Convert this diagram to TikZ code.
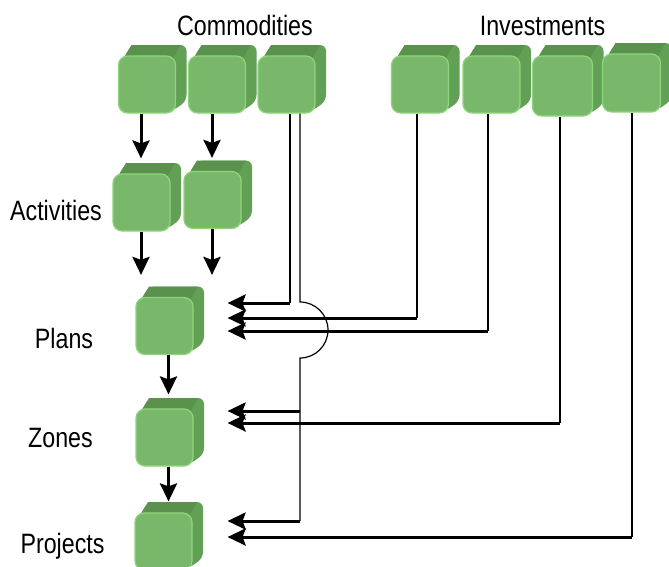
\documentclass[tikz,border=0pt]{standalone}
\usepackage{fontspec}
\setmainfont[FakeStretch=0.83]{Liberation Sans}
\usetikzlibrary{arrows.meta,calc}
\definecolor{cubefront}{HTML}{79B86B}
\definecolor{cubetop}{HTML}{5A914D}
\definecolor{cubeside}{HTML}{62A056}
\definecolor{cubeedge}{HTML}{8ED67C}
\tikzset{
 cubeface/.style={rectangle, rounded corners=9, fill=cubefront, draw=cubeedge, line width=1.2, inner sep=0pt, minimum width=#1, minimum height=#1},
 lbl/.style={font=\fontsize{28}{30}\selectfont, anchor=base, inner sep=0pt},
 flow/.style={line width=3pt, -{Stealth[length=18pt,width=17pt,inset=3pt]}},
 feed/.style={line width=1.2pt},
}
\newcommand\greencube[4]{%
 \fill[cubeside, rounded corners=6] (#2-#4/2+4,#3-#4/2+4) -- (#2-#4/2+13,#3-#4/2-11) -- (#2+#4/2+11,#3-#4/2-11) -- (#2+#4/2+11,#3+#4/2-12) -- (#2+#4/2-3,#3+#4/2-2) -- (#2-#4/2+4,#3+#4/2-4) -- cycle;
 \fill[cubetop] (#2-#4/2+4,#3-#4/2+4) -- (#2-#4/2+13,#3-#4/2-11) -- (#2+#4/2+5,#3-#4/2-11) -- (#2+#4/2-3,#3-#4/2+3) -- cycle;
 \node[cubeface=#4] (#1) at (#2,#3) {};
}
\begin{document}
\begin{tikzpicture}[x=1pt,y=-1pt]
\useasboundingbox (0,0) rectangle (669,566);
\fill[white] (0,0) rectangle (669,566);
\clip (0,0) rectangle (669,566);
% labels
\node[lbl] (tcom) at (245,35) {Commodities};
\node[lbl] (tinv) at (542.5,35) {Investments};
\node[lbl] (tact) at (56,220) {Activities};
\node[lbl] (tpla) at (64,348) {Plans};
\node[lbl] (tzon) at (60.5,447) {Zones};
\node[lbl] (tpro) at (62.5,553) {Projects};
% cubes
\greencube{c1}{147}{84.5}{57}
\greencube{c2}{217}{84.5}{57}
\greencube{c3}{286.5}{84.5}{57}
\greencube{i1}{420}{84.5}{57}
\greencube{i2}{491.5}{84.5}{57}
\greencube{i3}{562.5}{86}{60}
\greencube{i4}{631.5}{83}{58}
\greencube{a1}{141.5}{202.5}{57}
\greencube{a2}{212.5}{200}{57}
\greencube{plans}{164.5}{326}{57}
\greencube{zones}{164.5}{437.5}{57}
\greencube{projects}{163.5}{541.5}{57}
% helper coordinates
\coordinate (xa) at (141,0);
\coordinate (xb) at (212,0);
\coordinate (xc) at (168.5,0);
\coordinate (p1) at (290,303);
\coordinate (p2) at (417,318);
\coordinate (p3) at (488,331);
\coordinate (j1) at (300,302);
\coordinate (z1) at (300,411);
\coordinate (z2) at (560,423);
\coordinate (r1) at (300,521);
\coordinate (r2) at (632,537);
% vertical flow arrows
\draw[flow, shorten >=15pt] (c1.south -| xa) -- (a1.north -| xa);
\draw[flow, shorten >=13pt] (c2.south -| xb) -- (a2.north -| xb);
\draw[flow, shorten >=22pt] (a1.south -| xa) -- (plans.north -| xa);
\draw[flow, shorten >=22pt] (a2.south -| xb) -- (plans.north -| xb);
\draw[flow, shorten >=14pt] (plans.south -| xc) -- (zones.north -| xc);
\draw[flow, shorten >=11pt] (zones.south -| xc) -- (projects.north -| xc);
% feeder lines
\draw[feed] (c3.south -| p1) -- (p1);
\draw[feed] (i1.south -| p2) -- (p2);
\draw[feed] (i2.south -| p3) -- (p3);
\draw[feed] (i3.south -| z2) -- (z2);
\draw[feed] (i4.south -| r2) -- (r2);
\draw[feed] (c3.south -| j1) -- (j1) arc[start angle=-90, end angle=90, radius=28] -- (r1);
% horizontal arrows
\draw[flow] (p1) -- ($(p1 -| plans.east)+(34,0)$);
\draw[flow] (p2) -- ($(p2 -| plans.east)+(34,0)$);
\draw[flow] (p3) -- ($(p3 -| plans.east)+(34,0)$);
\draw[flow] (z1) -- ($(z1 -| zones.east)+(34,0)$);
\draw[flow] (z2) -- ($(z2 -| zones.east)+(34,0)$);
\draw[flow] (r1) -- ($(r1 -| projects.east)+(35,0)$);
\draw[flow] (r2) -- ($(r2 -| projects.east)+(35,0)$);
\end{tikzpicture}
\end{document}
